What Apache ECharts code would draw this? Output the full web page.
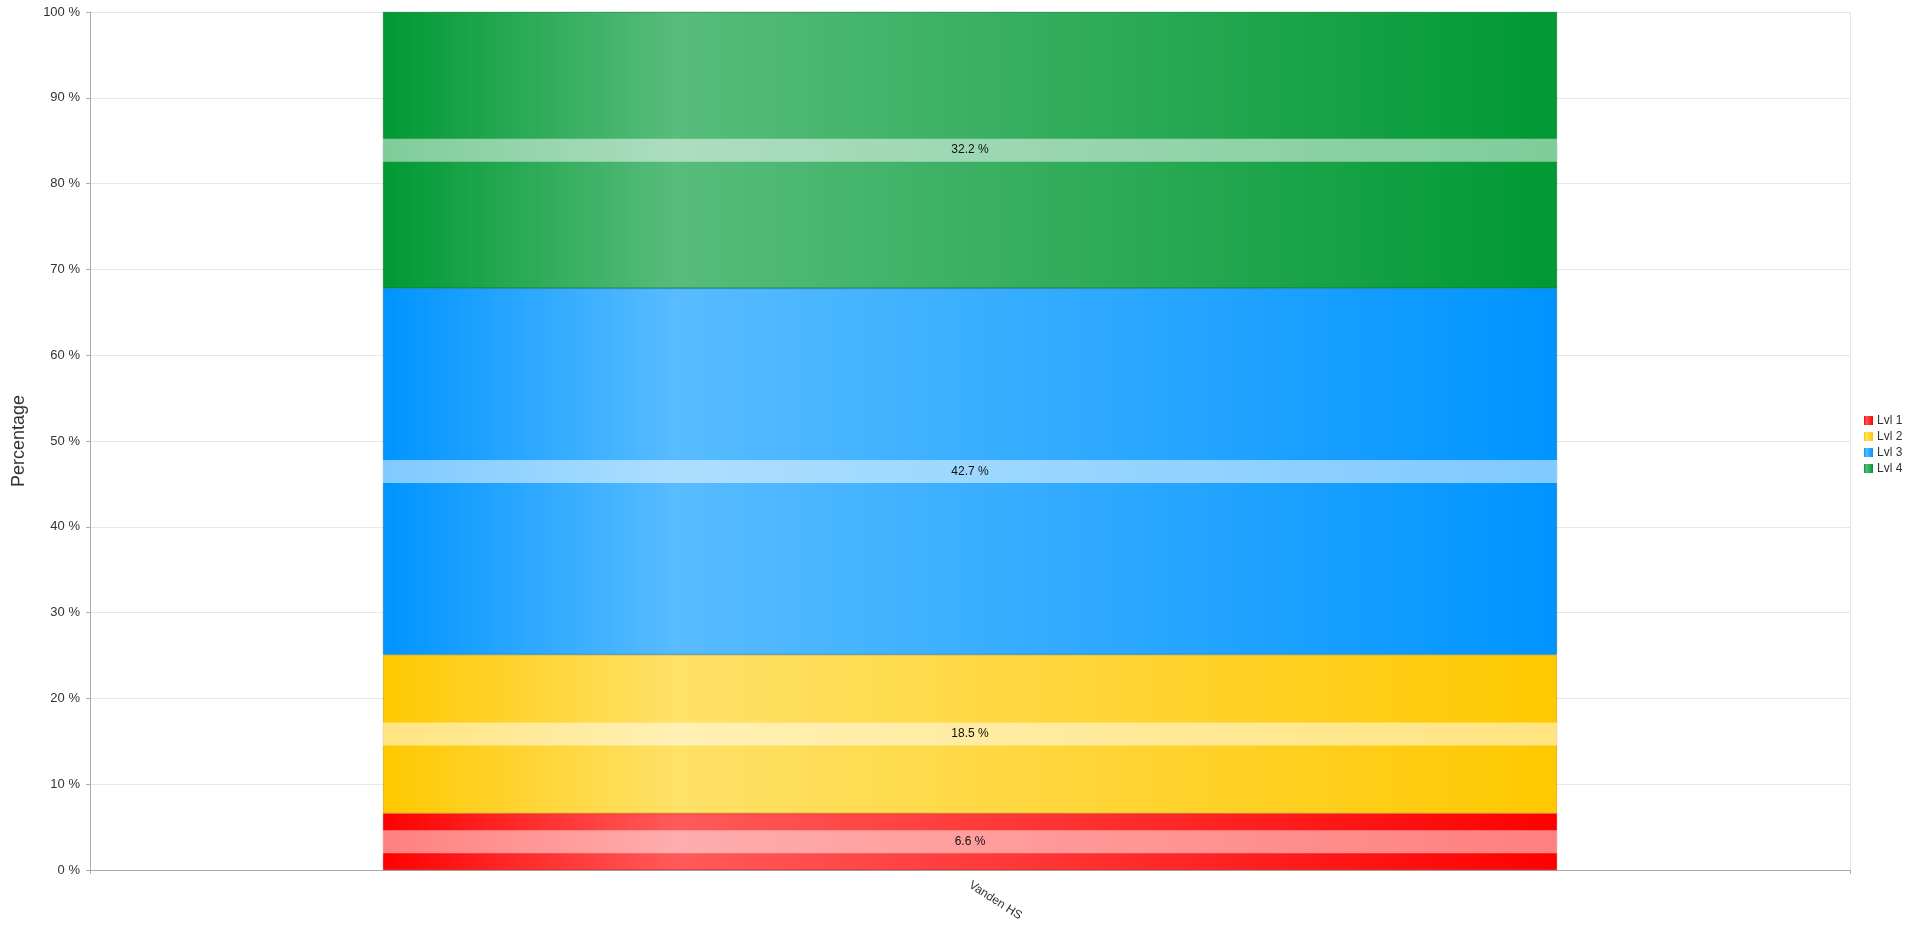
<!DOCTYPE html>
<html>
<head>
<meta charset="utf-8">
<script src="https://cdn.jsdelivr.net/npm/echarts@6/dist/echarts.min.js"></script>
<style>
  html, body { margin: 0; padding: 0; background: #fff; }
  #chart { width: 1931px; height: 930px; }
</style>
</head>
<body>
<div id="chart"></div>
<script>
const categories = ['Vanden HS']
const levels = ['Lvl 1', 'Lvl 2', 'Lvl 3', 'Lvl 4']
const lvl1 = [6.6]
const lvl2 = [18.5]
const lvl3 = [42.7]
const lvl4 = [32.2]
const yTicks = [0, 10, 20, 30, 40, 50, 60, 70, 80, 90, 100]

// edge colour, light colour, border colour
const palette = [
  ['#ff0000', '#ff5a5a', '#cc0000'],
  ['#ffc800', '#ffe168', '#c89c00'],
  ['#0094ff', '#58bcff', '#0070c0'],
  ['#009933', '#58bc7c', '#00702a']
]

const myChart = echarts.init(document.getElementById('chart'))

const grad = (c) => new echarts.graphic.LinearGradient(0, 0, 1, 0, [
  { offset: 0, color: c[0] },
  { offset: 0.25, color: c[1] },
  { offset: 1, color: c[0] }
])

const makeSeries = (name, data, i) => ({
  name: name,
  type: 'bar',
  stack: 'total',
  data: data,
  barCategoryGap: '33.3%',
  color: palette[i][0],
  itemStyle: {
    color: grad(palette[i]),
    borderColor: palette[i][2],
    borderWidth: 0.6
  },
  label: {
    show: true,
    position: 'inside',
    formatter: '{c} %',
    color: '#111',
    fontSize: 12,
    fontFamily: 'Liberation Sans, Arial, sans-serif',
    width: 1174,
    align: 'center',
    lineHeight: 13,
    padding: [5, 0],
    backgroundColor: 'rgba(255,255,255,0.5)'
  }
})

myChart.setOption({
  animation: false,
  textStyle: { fontFamily: 'Liberation Sans, Arial, sans-serif' },
  grid: { left: 90, right: 81, top: 12, bottom: 60, containLabel: false, outerBoundsMode: 'none' },
  legend: {
    orient: 'vertical',
    left: 1859,
    top: 409,
    data: levels,
    itemWidth: 9,
    itemHeight: 9,
    itemGap: 3,
    icon: 'rect',
    itemStyle: { borderWidth: 0 },
    textStyle: { fontSize: 12, color: '#333', lineHeight: 13, padding: [0, 0, 0, -1] }
  },
  xAxis: {
    type: 'category',
    data: categories,
    axisLine: { lineStyle: { color: '#aaa', width: 1 } },
    axisTick: { show: true, length: 4, lineStyle: { color: '#aaa' } },
    splitLine: { show: true, lineStyle: { color: '#e6e6e6' } },
    axisLabel: { rotate: -33, color: '#333', fontSize: 12, margin: 14 }
  },
  yAxis: {
    type: 'value',
    min: yTicks[0],
    max: yTicks[yTicks.length - 1],
    interval: 10,
    name: 'Percentage',
    nameLocation: 'middle',
    nameGap: 62,
    nameTextStyle: { fontSize: 18, color: '#333' },
    axisLine: { show: true, lineStyle: { color: '#aaa' } },
    axisTick: { show: true, length: 4, lineStyle: { color: '#aaa' } },
    splitLine: { lineStyle: { color: '#e6e6e6' } },
    axisLabel: { formatter: '{value} %', color: '#333', fontSize: 13, margin: 10 }
  },
  series: [
    makeSeries(levels[0], lvl1, 0),
    makeSeries(levels[1], lvl2, 1),
    makeSeries(levels[2], lvl3, 2),
    makeSeries(levels[3], lvl4, 3)
  ]
})
</script>
</body>
</html>
